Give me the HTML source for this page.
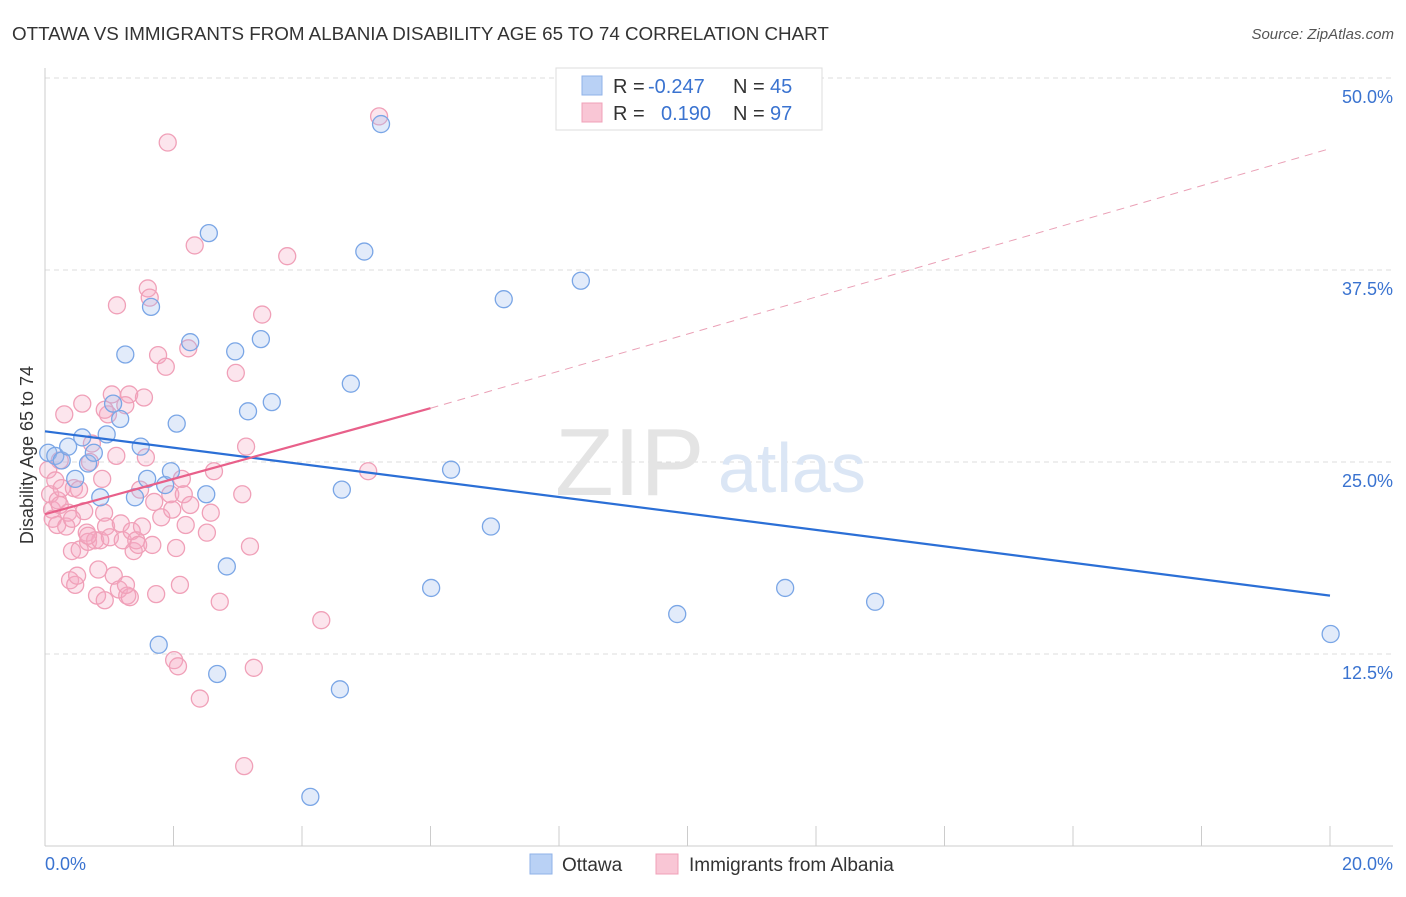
<!DOCTYPE html>
<html><head><meta charset="utf-8"><style>
body{margin:0;background:#fff;font-family:"Liberation Sans",sans-serif}
svg text{font-family:"Liberation Sans",sans-serif}
</style></head><body>
<svg id="c" width="1406" height="892">
<text x="12" y="40" font-size="18.8" fill="#333">OTTAWA VS IMMIGRANTS FROM ALBANIA DISABILITY AGE 65 TO 74 CORRELATION CHART</text>
<text x="1394" y="39" font-size="15" fill="#555" text-anchor="end" font-style="italic">Source: ZipAtlas.com</text>
<text x="33" y="455" font-size="18" fill="#333" text-anchor="middle" transform="rotate(-90 33 455)">Disability Age 65 to 74</text>
<g id="grid"></g><g id="axes"></g>
<text x="555" y="495" font-size="96" fill="#e4e4e4" font-family="Liberation Serif">ZIP</text>
<text x="718" y="492" font-size="70" fill="#dbe6f5">atlas</text>
<g id="pts"></g><g id="lines"></g>
<g>
<rect x="556" y="68" width="266" height="62" fill="#fff" stroke="#ddd"/>
<rect x="582" y="76" width="20" height="19" fill="#b9d1f5" stroke="#8fb2e8"/>
<rect x="582" y="103" width="20" height="19" fill="#f9c6d5" stroke="#f0a0b8"/>
<text x="613" y="93" font-size="20" fill="#333">R =</text>
<text x="648" y="93" font-size="20" fill="#3a73d0">-0.247</text>
<text x="733" y="93" font-size="20" fill="#333">N =</text>
<text x="770" y="93" font-size="20" fill="#3a73d0">45</text>
<text x="613" y="120" font-size="20" fill="#333">R =</text>
<text x="661" y="120" font-size="20" fill="#3a73d0">0.190</text>
<text x="733" y="120" font-size="20" fill="#333">N =</text>
<text x="770" y="120" font-size="20" fill="#3a73d0">97</text>
</g>
<g>
<rect x="530" y="854" width="22" height="20" fill="#b9d1f5" stroke="#8fb2e8"/>
<text x="562" y="871" font-size="19" fill="#333">Ottawa</text>
<rect x="656" y="854" width="22" height="20" fill="#f9c6d5" stroke="#f0a0b8"/>
<text x="689" y="871" font-size="19" fill="#333">Immigrants from Albania</text>
</g>
</svg>
<script>
const yTicks=[12.5,25,37.5,50];
const yTickLabels=["12.5%","25.0%","37.5%","50.0%"];
const blueX=[0.05,0.16,0.26,0.36,0.47,0.58,0.67,0.76,0.86,0.96,1.06,1.17,1.25,1.40,1.49,1.59,1.65,1.77,1.87,1.96,2.05,2.26,2.51,2.55,2.68,2.83,2.96,3.16,3.36,3.53,4.13,4.59,4.62,4.76,4.97,5.23,6.01,6.32,6.94,7.14,8.34,9.84,11.52,12.92,20.01];
const blueY=[25.6,25.4,25.1,26.0,23.9,26.6,24.9,25.6,22.7,26.8,28.8,27.8,32.0,22.7,26.0,23.9,35.1,13.1,23.5,24.4,27.5,32.8,22.9,39.9,11.2,18.2,32.2,28.3,33.0,28.9,3.2,10.2,23.2,30.1,38.7,47.0,16.8,24.5,20.8,35.6,36.8,15.1,16.8,15.9,13.8];
const pinkX=[0.05,0.08,0.11,0.12,0.16,0.19,0.20,0.23,0.26,0.30,0.33,0.36,0.39,0.42,0.45,0.47,0.50,0.53,0.54,0.58,0.61,0.65,0.67,0.70,0.73,0.78,0.81,0.83,0.86,0.89,0.92,0.93,0.95,0.98,1.01,1.04,1.07,1.11,1.12,1.15,1.18,1.21,1.25,1.28,1.31,1.32,1.35,1.38,1.42,1.45,1.48,1.51,1.54,1.57,1.60,1.63,1.67,1.70,1.73,1.76,1.81,1.88,1.91,1.95,1.98,2.01,2.04,2.07,2.10,2.13,2.16,2.19,2.23,2.26,2.33,2.41,2.52,2.58,2.63,2.72,2.97,3.07,3.10,3.13,3.19,3.25,3.38,3.77,4.30,5.03,5.20,0.93,1.26,0.67,0.42,0.23];
const pinkY=[24.5,22.9,21.9,21.3,23.8,20.9,22.5,22.2,23.3,28.1,20.8,21.7,17.3,19.2,23.3,17.0,17.6,23.2,19.3,28.8,21.8,20.4,19.8,25.0,26.2,19.9,16.3,18.0,19.9,23.9,21.7,16.0,20.8,28.1,20.1,29.4,17.6,25.4,35.2,16.7,21.0,19.9,28.7,16.3,29.4,16.2,20.5,19.2,19.9,19.6,23.2,20.8,29.2,25.3,36.3,35.7,19.6,22.4,16.4,31.96,21.4,31.2,45.8,22.9,21.9,12.1,19.4,11.7,17.0,23.9,22.9,20.9,32.4,22.2,39.1,9.6,20.4,21.7,24.4,15.9,30.8,22.9,5.2,26.0,19.5,11.6,34.6,38.4,14.7,24.4,47.5,28.4,17.0,20.2,21.3,25.1];
const X=v=>45+v*64.25, Y=v=>846-v*15.36;
const NS="http://www.w3.org/2000/svg";
function mk(t,a,p){const e=document.createElementNS(NS,t);for(const k in a)e.setAttribute(k,a[k]);p.appendChild(e);return e;}
const g=document.getElementById('grid'),ax=document.getElementById('axes');
yTicks.forEach((t,i)=>{
 const l=mk('line',{x1:45,x2:1393,y1:Y(t),y2:Y(t),stroke:'#ddd','stroke-dasharray':'5,4'},g);
 
 
 const tx=mk('text',{x:1393,y:Y(t)+25,'font-size':18,fill:'#3a73d0','text-anchor':'end'},ax);
 tx.textContent=yTickLabels[i];
 
 
});
mk('line',{x1:45,x2:45,y1:68,y2:846,stroke:'#ccc'},ax);
mk('line',{x1:45,x2:1393,y1:846,y2:846,stroke:'#ccc'},ax);
for(let i=0;i<=10;i++){const l=mk('line',{x1:X(i*2),x2:X(i*2),y1:826,y2:846,stroke:'#ccc'},ax);
 
 }
let t1=mk('text',{x:45,y:870,'font-size':18,fill:'#3a73d0'},ax);t1.textContent='0.0%';


let t2=mk('text',{x:1393,y:870,'font-size':18,fill:'#3a73d0','text-anchor':'end'},ax);t2.textContent='20.0%';


const pg=document.getElementById('pts');
pinkX.forEach((x,i)=>{const c=mk('circle',{cx:X(x),cy:Y(pinkY[i]),r:8.5,fill:'rgba(245,170,195,0.3)',stroke:'#f0a0b8','stroke-width':1.3},pg);
 
 });
blueX.forEach((x,i)=>{const c=mk('circle',{cx:X(x),cy:Y(blueY[i]),r:8.5,fill:'rgba(160,190,240,0.3)',stroke:'#7aa6e6','stroke-width':1.3},pg);
 
 });
const lg=document.getElementById('lines');
let b=mk('line',{x1:X(0),y1:Y(27.0),x2:X(20),y2:Y(16.3),stroke:'#2b6fd6','stroke-width':2.2},lg);


let p1=mk('line',{x1:X(0),y1:Y(21.6),x2:X(6),y2:Y(28.5),stroke:'#e8608a','stroke-width':2.2},lg);


let p2=mk('line',{x1:X(6),y1:Y(28.5),x2:X(20),y2:Y(45.4),stroke:'#eaa0b6','stroke-width':1,'stroke-dasharray':'8,6'},lg);


</script>
</body></html>
